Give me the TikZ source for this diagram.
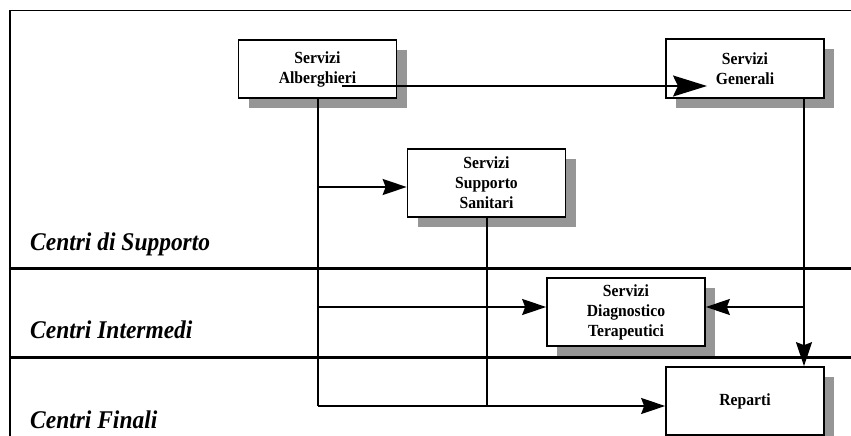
\documentclass[tikz,border=0pt]{standalone}
\usepackage{fontspec}
\setmainfont{Liberation Serif}
\newfontfamily\narrowserif[FakeStretch=0.92]{Liberation Serif}
\usetikzlibrary{arrows.meta,shadows}
\definecolor{shadowgray}{RGB}{150,150,150}
\begin{document}
\begin{tikzpicture}[x=1pt,y=-1pt,
  unitbox/.style={draw=black, line width=1.7pt, fill=white, align=center,
    font=\narrowserif\fontsize{17}{20}\selectfont\bfseries,
    minimum width=158pt, inner sep=0pt,
    drop shadow={fill=shadowgray, opacity=1, shadow xshift=10pt, shadow yshift=-10pt}},
  layerlabel/.style={anchor=base west, inner sep=0pt,
    font=\narrowserif\fontsize{25.5}{30}\selectfont\bfseries\itshape},
  link/.style={draw=black, line width=1.8pt},
  flow/.style={link, -{Stealth[length=24pt,width=16pt,inset=3pt]}},
  bigflow/.style={link, -{Stealth[length=34pt,width=21pt,inset=5pt]}},
  divider/.style={draw=black, line width=3pt}]
\useasboundingbox (0,0) rectangle (851,436);

% outer frame (left and top edges)
\draw[line width=1.8pt] (10,436) -- (10,10.5) -- (851,10.5);

% layer dividers
\draw[divider] (10,268) -- (851,268);
\draw[divider] (10,357) -- (851,357);

% layer names
\node[layerlabel] (lsup) at (30,250) {Centri di Supporto};
\node[layerlabel] (lint) at (30,338) {Centri Intermedi};
\node[layerlabel] (lfin) at (30,428) {Centri Finali};

% service units
\node[unitbox, minimum height=58pt] (alb) at (317.5,69) {Servizi\\Alberghieri};
\node[unitbox, minimum height=59pt] (gen) at (745,68.5) {Servizi\\Generali};
\node[unitbox, minimum height=68pt] (ssa) at (486.5,183) {Servizi\\Supporto\\Sanitari};
\node[unitbox, minimum height=68pt] (sdt) at (626,312) {Servizi\\Diagnostico\\Terapeutici};
\node[unitbox, minimum height=68pt] (rep) at (745,401) {Reparti};

% junction points of the flows
\coordinate (agstart) at (342,86);
\coordinate (agtip) at (707,86);
\coordinate (aj1) at (318,187);
\coordinate (aj2) at (318,307);
\coordinate (aj3) at (318,406);
\coordinate (sj) at (487,406);
\coordinate (gj) at (804,307);

% flows
\draw[bigflow] (agstart) -- (agtip);
\draw[link] (alb.south -| aj1) -- (aj3);
\draw[flow] (aj1) -- (aj1 -| ssa.west);
\draw[flow] (aj2) -- (aj2 -| sdt.west);
\draw[flow] (aj3) -- (aj3 -| rep.west);
\draw[link] (ssa.south -| sj) -- (sj);
\draw[flow] (gen.south -| gj) -- (rep.north -| gj);
\draw[flow] (gj) -- (gj -| sdt.east);
\end{tikzpicture}
\end{document}
